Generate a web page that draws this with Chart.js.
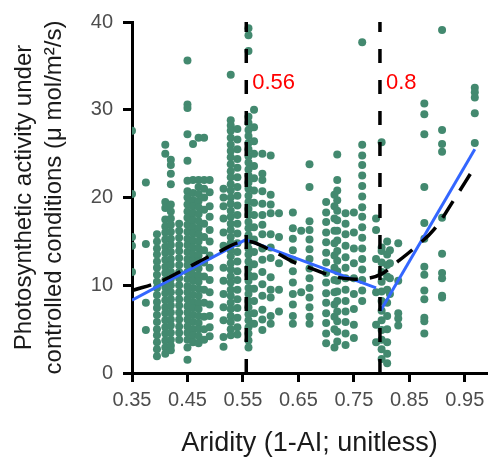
<!DOCTYPE html>
<html lang="en">
  <head>
    <meta charset="UTF-8" />
    <title>Photosynthetic activity vs aridity</title>
    <script src="https://cdn.jsdelivr.net/npm/chart.js"></script>
    <style>
      body { margin: 0; background: #fff; }
    </style>
  </head>
  <body>
    <div style="width: 491px; height: 463px">
      <canvas id="aridityChart"></canvas>
    </div>
    <script>
      // axis ticks
      const xTicks = [0.35, 0.45, 0.55, 0.65, 0.75, 0.85, 0.95];
      const yTicks = [0, 10, 20, 30, 40];

      const colX = [0.35, 0.375, 0.395, 0.41, 0.42, 0.435, 0.45, 0.46, 0.47, 0.48, 0.49,
        0.515, 0.528, 0.54, 0.56, 0.57, 0.585, 0.60, 0.615, 0.64, 0.655, 0.67, 0.70,
        0.715, 0.72, 0.735, 0.75, 0.765, 0.79, 0.80, 0.81, 0.815, 0.83, 0.877, 0.909, 0.968];
      const colY = [
        [27.6, 20.4, 15.5, 14.5, 11.5],
        [21.7, 14.7, 8.0, 4.9],
        [15.8, 15.0, 14.2, 13.5, 12.7, 12.0, 11.2, 10.4, 9.7, 8.9, 8.1, 7.4, 6.6, 5.8, 5.0, 4.3, 3.5, 2.7, 1.9],
        [26.0, 25.0, 19.5, 18.8, 17.5, 16.7, 16.0, 15.2, 14.4, 13.7, 12.9, 12.1, 11.4, 10.6, 9.8, 9.1, 8.3, 7.5, 6.8, 6.0, 5.2, 4.5, 3.7, 2.9, 2.2],
        [24.3, 23.7, 22.7, 21.5, 19.2, 18.4, 17.6, 16.9, 16.1, 15.3, 14.6, 13.8, 13.0, 12.3, 11.5, 10.7, 10.0, 9.2, 8.4, 7.7, 6.9, 6.1, 5.4, 4.6, 3.8, 3.1, 2.6],
        [17.0, 16.2, 15.4, 14.6, 13.9, 13.1, 12.3, 11.5, 10.8, 10.0, 9.2, 8.4, 7.7, 6.9, 6.1, 5.3, 4.6, 3.8],
        [35.6, 30.6, 30.2, 27.2, 24.2, 21.9, 20.7, 20.0, 19.2, 18.4, 17.7, 16.9, 16.1, 15.3, 14.6, 13.8, 13.0, 12.3, 11.5, 10.7, 9.9, 9.2, 8.4, 7.6, 6.9, 6.1, 5.3, 4.6, 3.8, 2.9, 1.5],
        [26.1, 22.0, 20.5, 19.7, 19.0, 18.2, 17.4, 16.6, 15.9, 15.1, 14.3, 13.5, 12.8, 12.0, 11.2, 10.5, 9.7, 8.9, 8.1, 7.4, 6.6, 5.8, 5.0, 4.3, 3.5],
        [26.8, 22.0, 21.2, 20.4, 19.6, 18.9, 18.1, 17.3, 16.5, 15.8, 15.0, 14.2, 13.4, 12.7, 11.9, 11.1, 10.4, 9.6, 8.8, 8.0, 7.3, 6.5, 5.7, 5.0, 4.2, 3.4],
        [26.8, 22.0, 21.0, 20.0, 18.6, 17.0, 15.5, 14.0, 12.6, 11.0, 9.5, 8.0, 6.4, 5.0, 3.8],
        [22.0, 20.6, 19.0, 17.8, 16.3, 15.0, 13.4, 12.0, 10.6, 9.2, 7.8, 6.5, 5.2, 4.2],
        [21.0, 20.0, 19.0, 17.6, 16.0, 14.5, 12.0, 10.5, 9.0, 7.5, 6.0, 4.1, 3.0],
        [34.0, 28.8, 28.2, 27.6, 26.8, 26.0, 25.3, 24.6, 23.8, 23.0, 22.3, 21.5, 20.8, 20.0, 19.3, 18.5, 17.8, 17.0, 16.3, 15.5, 14.8, 14.0, 13.3, 12.5, 11.8, 11.0, 10.3, 9.5, 8.8, 8.0, 7.3, 6.5, 5.8, 5.0, 4.3],
        [27.8, 26.6, 25.5, 24.4, 23.4, 22.3, 21.2, 20.2, 19.1, 18.0, 17.0, 15.9, 14.8, 13.8, 12.7, 11.6, 10.6, 9.5, 8.4, 7.4, 6.3, 5.2, 4.4],
        [39.3, 38.5, 36.7, 29.2, 28.5, 27.7, 27.0, 26.2, 25.5, 24.7, 24.0, 23.2, 22.5, 21.7, 21.0, 20.2, 19.5, 18.7, 18.0, 17.2, 16.5, 15.7, 15.0, 14.2, 13.5, 12.7, 12.0, 11.2, 10.5, 9.7, 9.0, 8.2, 7.5, 6.7, 6.0, 5.2, 4.5, 3.7, 2.9],
        [30.0, 28.0, 26.4, 25.0, 23.6, 22.2, 20.8, 19.4, 18.0, 16.6, 15.2, 13.8, 12.4, 11.0, 9.6, 8.2, 6.8, 5.6],
        [25.0, 22.7, 22.0, 20.7, 19.3, 18.0, 16.9, 15.8, 14.2, 12.9, 11.5, 10.1, 8.8, 7.2, 6.1, 4.9],
        [24.8, 20.3, 19.2, 18.2, 15.8, 14.3, 13.1, 10.9, 9.5, 8.6, 6.5, 5.6],
        [18.2, 15.5, 12.5, 9.5, 7.0],
        [18.3, 16.5, 15.3, 14.0, 12.9, 11.6, 10.3, 9.0, 7.8, 6.5, 5.6],
        [16.2, 9.2],
        [23.8, 21.2, 17.3, 16.3, 15.2, 14.1, 13.0, 11.9, 10.8, 9.7, 8.6, 7.5, 6.4, 5.6],
        [19.5, 18.3, 17.2, 16.0, 14.9, 13.7, 12.6, 11.4, 10.3, 9.1, 8.0, 6.8, 5.7, 4.5, 3.4],
        [20.3, 19.0, 17.6, 16.2, 14.8, 13.4, 12.0, 10.6, 9.2, 7.8, 6.4, 5.0, 2.9],
        [24.9, 22.0, 20.8, 19.7, 18.5, 17.4, 16.2, 15.1, 13.9, 12.8, 11.6, 10.5, 9.3, 8.2, 7.0, 5.9, 4.7, 3.6],
        [18.2, 17.0, 15.8, 14.5, 13.2, 12.0, 10.8, 9.5, 8.2, 7.0, 5.8, 4.5, 3.2],
        [18.3, 16.0, 14.2, 12.5, 10.8, 9.0, 7.3, 5.5, 4.0],
        [37.7, 26.0, 24.8, 23.7, 22.5, 21.3, 20.1, 18.9, 17.8, 16.6, 15.4, 14.2, 13.0, 11.8, 10.6, 9.4, 8.2],
        [17.6, 16.3, 13.0, 9.2, 5.5, 3.5],
        [26.3, 14.3, 13.9, 12.6, 11.5, 10.4, 9.3, 8.2, 7.1, 6.0, 4.9, 3.8, 2.7, 1.6],
        [15.0, 13.5, 12.3, 11.0, 9.5, 8.0, 6.5, 5.0, 3.5, 2.2, 1.1],
        [14.0, 12.5, 10.8, 9.0],
        [14.8, 10.5, 6.8, 6.2, 5.4],
        [30.7, 29.5, 27.2, 21.2, 17.1, 15.3, 12.1, 11.2, 9.4, 8.4, 6.3, 5.9, 4.5],
        [39.1, 27.7, 26.1, 25.2, 17.7, 13.6, 11.4, 10.8, 8.8, 8.6],
        [32.5, 32.0, 31.4, 29.6, 26.2]
      ];

      // segmented regression (blue), broken at the second breakpoint
      const segX1 = [0.35, 0.555, 0.79];
      const segY1 = [8.3, 15.2, 9.7];
      const segX2 = [0.798, 0.968];
      const segY2 = [7.1, 25.5];

      // smooth trend (black dashed)
      const loessX = [0.35, 0.40, 0.45, 0.50, 0.555, 0.60, 0.646, 0.661, 0.709, 0.745, 0.777, 0.80, 0.823, 0.86, 0.895, 0.932, 0.968];
      const loessY = [9.4, 10.4, 12.0, 13.6, 15.0, 14.0, 12.5, 12.2, 11.1, 10.7, 10.8, 11.3, 12.4, 14.3, 16.4, 19.9, 23.5];

      // breakpoints
      const breakX = [0.556, 0.797];
      const breakLabels = ["0.56", "0.8"];
      const breakLabelY = 33;

      const toXY = (xs, ys) => xs.map((x, i) => ({ x: x, y: ys[i] }));
      const points = colX.flatMap((x, i) => colY[i].map((y) => ({ x: x, y: y })));

      Chart.defaults.font.family = "'Liberation Sans', Arial, sans-serif";

      const breakSets = breakX.map((bx) => ({
        data: [{ x: bx, y: 0 }, { x: bx, y: 40 }],
        showLine: true,
        borderColor: "#000",
        borderWidth: 3.5,
        borderDash: [14, 17],
        pointRadius: 0,
        order: 0,
      }));

      const ctx = document.getElementById("aridityChart").getContext("2d");
      const chart = new Chart(ctx, {
        type: "scatter",
        data: {
          datasets: [
            ...breakSets,
            {
              data: toXY(loessX, loessY),
              showLine: true,
              tension: 0.4,
              borderColor: "#000",
              borderWidth: 3.5,
              borderDash: [20, 12],
              pointRadius: 0,
              order: 1,
            },
            {
              data: toXY(segX1, segY1),
              showLine: true,
              borderColor: "#3366ff",
              borderWidth: 3,
              pointRadius: 0,
              order: 2,
            },
            {
              data: toXY(segX2, segY2),
              showLine: true,
              borderColor: "#3366ff",
              borderWidth: 3,
              pointRadius: 0,
              order: 2,
            },
            {
              data: points,
              backgroundColor: "#43896f",
              borderWidth: 0,
              pointRadius: 4,
              clip: 0,
              order: 3,
            },
          ],
        },
        options: {
          responsive: true,
          maintainAspectRatio: false,
          animation: false,
          layout: { padding: { top: 19, right: 2, left: 0, bottom: 0 } },
          plugins: {
            legend: { display: false },
            tooltip: { enabled: false },
          },
          scales: {
            x: {
              type: "linear",
              min: 0.35,
              max: 0.99,
              afterBuildTicks: (s) => { s.ticks = xTicks.map((v) => ({ value: v })); },
              afterFit: (s) => { s.height = 90; },
              grid: { drawOnChartArea: false, drawTicks: true, tickLength: 9, tickWidth: 3, tickColor: "#000" },
              border: { color: "#000", width: 3 },
              ticks: {
                color: "#4d4d4d",
                font: { size: 20 },
                padding: 6,
                maxRotation: 0,
                callback: (v) => v.toFixed(2),
              },
              title: {
                display: true,
                text: "Aridity (1-AI; unitless)",
                color: "#1a1a1a",
                font: { size: 27 },
                padding: { top: 0, bottom: 3 },
              },
            },
            y: {
              min: 0,
              max: 40,
              afterBuildTicks: (s) => { s.ticks = yTicks.map((v) => ({ value: v })); },
              afterFit: (s) => { s.width = 132; },
              grid: { drawOnChartArea: false, drawTicks: true, tickLength: 9, tickWidth: 3, tickColor: "#000" },
              border: { color: "#000", width: 3 },
              ticks: { color: "#4d4d4d", font: { size: 20 }, padding: 10 },
              title: {
                display: true,
                text: ["Photosynthetic activity under", "controlled conditions (\u03bc mol/m\u00b2/s)"],
                color: "#1a1a1a",
                font: { size: 24, lineHeight: 1.25 },
                padding: { top: 9, bottom: 0 },
              },
            },
          },
        },
        plugins: [
          {
            id: "breakLabels",
            afterDatasetsDraw: (c) => {
              const g = c.ctx;
              g.save();
              g.fillStyle = "#ff0000";
              g.font = "22px 'Liberation Sans', Arial, sans-serif";
              g.textAlign = "left";
              g.textBaseline = "middle";
              breakX.forEach((bx, i) => {
                g.fillText(breakLabels[i], c.scales.x.getPixelForValue(bx) + 6, c.scales.y.getPixelForValue(breakLabelY));
              });
              g.restore();
            },
          },
        ],
      });
    </script>
  </body>
</html>
